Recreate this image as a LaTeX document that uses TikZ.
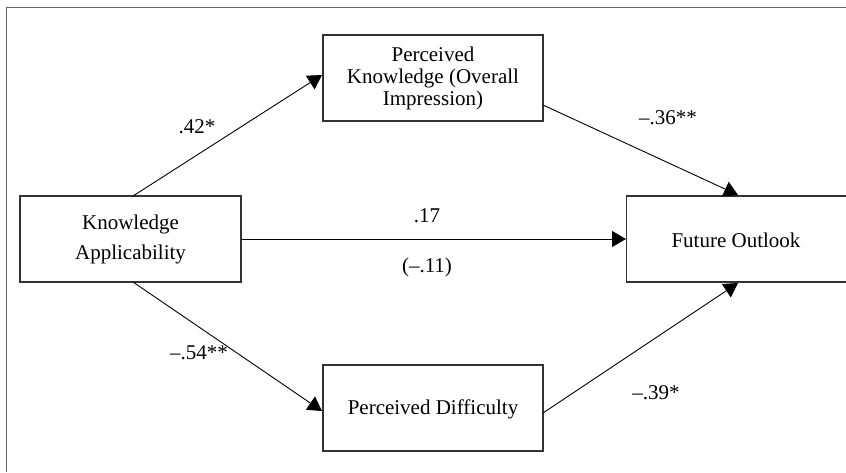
\documentclass[tikz,border=0pt]{standalone}
\usepackage{fontspec}
\setmainfont{Liberation Serif}
\usetikzlibrary{arrows.meta}
\begin{document}
\begin{tikzpicture}[x=1pt,y=-1pt,
  box/.style={draw=black!80,line width=1.2pt,inner sep=0pt,align=center,font=\fontsize{21}{22}\selectfont},
  conn/.style={line width=0.9pt,-{Triangle[length=14pt,width=16pt]}},
  lbl/.style={font=\fontsize{21}{23}\selectfont}]
\useasboundingbox (0,0) rectangle (846,472);
\draw[black!60,line width=1pt] (6,472) -- (6,7) -- (846,7);
\node[box,minimum width=220pt,minimum height=86pt] (pk) at (433,78) {Perceived\\Knowledge (Overall\\Impression)};
\node[box,minimum width=221pt,minimum height=86pt,align=center] (ka) at (130.5,239) {Knowledge\\[8pt]Applicability};
\node[box,minimum width=230pt,minimum height=86pt,anchor=west] (fo) at (626,239) {};
\node[lbl] (fot) at (736,240) {Future Outlook};
\node[box,minimum width=220pt,minimum height=86pt] (pd) at (433,408) {};
\node[lbl] (pdt) at (433,409) {Perceived Difficulty};
\coordinate (kat) at (133,196);
\coordinate (kab) at (133,282);
\coordinate (pkl) at (322,75);
\coordinate (pkr) at (543,105);
\coordinate (fot1) at (738,195);
\coordinate (fob) at (738,283);
\coordinate (pdl) at (322,411);
\coordinate (pdr) at (543,413);
\draw[conn] (kat) -- (pkl);
\draw[conn] (pkr) -- (fot1);
\draw[conn] (ka.east) -- (fo.west);
\draw[conn] (kab) -- (pdl);
\draw[conn] (pdr) -- (fob);
\node[lbl] (l1) at (197,127) {.42*};
\node[lbl] (l2) at (668,118) {–.36**};
\node[lbl] (l3) at (427,216) {.17};
\node[lbl] (l4) at (427,267) {(–.11)};
\node[lbl] (l5) at (199,353) {–.54**};
\node[lbl] (l6) at (656,393) {–.39*};
\end{tikzpicture}
\end{document}
